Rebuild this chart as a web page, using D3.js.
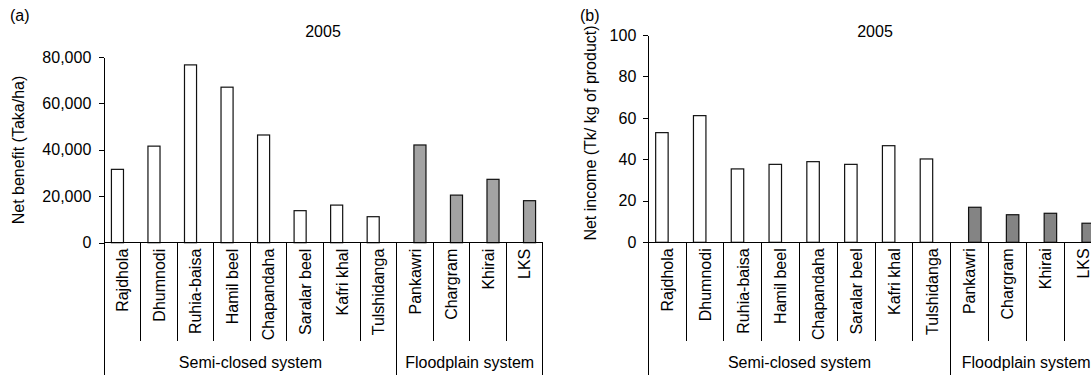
<!DOCTYPE html>
<html>
<head>
<meta charset="utf-8">
<script src="https://cdn.jsdelivr.net/npm/d3@7"></script>
<style>
  body { margin: 0; background: #fff; }
  svg { display: block; font-family: "Liberation Sans", Arial, Helvetica, sans-serif; fill: #000; }
  .axis text { font-size: 16px; fill: #000; font-family: "Liberation Sans", Arial, sans-serif; }
  .axis path, .axis line { stroke: #000; }
</style>
</head>
<body>
<div id="chart"></div>
<script>
// sites, split by production system
const semiSites = ['Rajdhola', 'Dhumnodi', 'Ruhia-baisa', 'Hamil beel', 'Chapandaha', 'Saralar beel', 'Kafri khal', 'Tulshidanga'];
const floodSites = ['Pankawri', 'Chargram', 'Khirai', 'LKS'];
const systems = ['Semi-closed system', 'Floodplain system'];

// 2005 values, same order as semiSites then floodSites
const netBenefit = [31600, 41600, 76600, 67000, 46400, 13800, 16200, 11200, 42100, 20500, 27300, 18100];
const netIncome = [52.9, 61.1, 35.4, 37.6, 38.9, 37.6, 46.6, 40.2, 16.9, 13.3, 14.0, 9.2];

const benefitTicks = [0, 20000, 40000, 60000, 80000];
const incomeTicks = [0, 20, 40, 60, 80, 100];

const W = 1091, H = 375;
const FS = 16;
const svg = d3.select('#chart').append('svg').attr('width', W).attr('height', H);

const sites = semiSites.concat(floodSites);

function drawPanel(p) {
  const g = svg.append('g');
  const x = d3.scaleBand().domain(sites).range([p.left, p.right]);
  const y = d3.scaleLinear().domain([0, d3.max(p.ticks)]).range([p.y0, p.top]);
  const bw = x.bandwidth();
  // two series per category (excel style), only one has a value
  const x1 = d3.scalePoint().domain(['semi', 'flood']).range([bw * 0.36, bw * 0.64]);
  const barW = bw * 0.33;

  const rows = sites.map((s, i) => ({
    site: s,
    key: i < semiSites.length ? 'semi' : 'flood',
    value: p.values[i]
  }));

  g.selectAll('rect.bar')
    .data(rows)
    .enter()
    .append('rect')
    .attr('class', 'bar')
    .attr('x', d => x(d.site) + x1(d.key) - barW / 2)
    .attr('y', d => y(d.value))
    .attr('width', barW)
    .attr('height', d => y(0) - y(d.value))
    .attr('fill', d => d.key === 'semi' ? '#fff' : p.floodFill)
    .attr('stroke', '#111')
    .attr('stroke-width', 1.2);

  // y axis
  g.append('g')
    .attr('class', 'axis')
    .attr('transform', 'translate(' + p.left + ',0)')
    .call(d3.axisLeft(y).tickValues(p.ticks).tickSize(5).tickSizeOuter(0).tickPadding(p.pad).tickFormat(p.fmt))
    .attr('shape-rendering', 'crispEdges');

  // baseline
  g.append('line')
    .attr('x1', p.left).attr('x2', p.right)
    .attr('y1', y(0)).attr('y2', y(0))
    .attr('stroke', '#000').attr('shape-rendering', 'crispEdges');

  // category separators, long ones between systems
  const step = x.step();
  d3.range(sites.length + 1).forEach(i => {
    const long = i === 0 || i === semiSites.length || i === sites.length;
    g.append('line')
      .attr('x1', p.left + i * step).attr('x2', p.left + i * step)
      .attr('y1', y(0)).attr('y2', long ? H : 341)
      .attr('stroke', '#000').attr('shape-rendering', 'crispEdges');
  });

  // category labels
  g.selectAll('text.cat')
    .data(sites)
    .enter()
    .append('text')
    .attr('class', 'cat')
    .attr('transform', d => 'translate(' + (x(d) + bw / 2) + ',' + (y(0) + 6) + ') rotate(-90)')
    .attr('text-anchor', 'end')
    .attr('dy', '0.36em')
    .attr('font-size', FS)
    .text(d => d);

  // system labels
  const groupX = [
    (p.left + x(floodSites[0])) / 2,
    (x(floodSites[0]) + p.right) / 2
  ];
  systems.forEach((s, i) => {
    g.append('text')
      .attr('x', groupX[i]).attr('y', 368)
      .attr('text-anchor', 'middle')
      .attr('font-size', FS)
      .text(s);
  });

  // y title
  g.append('text')
    .attr('transform', 'translate(' + p.titleX + ',' + p.titleY + ') rotate(-90)')
    .attr('text-anchor', 'middle')
    .attr('font-size', FS)
    .text(p.yTitle);

  g.append('text')
    .attr('x', p.yearX).attr('y', 37)
    .attr('text-anchor', 'middle')
    .attr('font-size', FS)
    .text('2005');

  g.append('text')
    .attr('x', p.tagX).attr('y', 21)
    .attr('font-size', FS)
    .text(p.tag);
}

drawPanel({
  values: netBenefit, ticks: benefitTicks, fmt: d3.format(','),
  left: 104.3, right: 542.7, y0: 242.7, top: 57, pad: 8,
  floodFill: '#a3a3a3',
  yTitle: 'Net benefit (Taka/ha)', titleX: 24, titleY: 150,
  yearX: 323, tag: '(a)', tagX: 10
});

drawPanel({
  values: netIncome, ticks: incomeTicks, fmt: d3.format('d'),
  left: 648.3, right: 1101.8, y0: 242.3, top: 35, pad: 7,
  floodFill: '#848484',
  yTitle: 'Net income (Tk/ kg of product)', titleX: 596, titleY: 133,
  yearX: 875, tag: '(b)', tagX: 580
});
</script>
</body>
</html>
